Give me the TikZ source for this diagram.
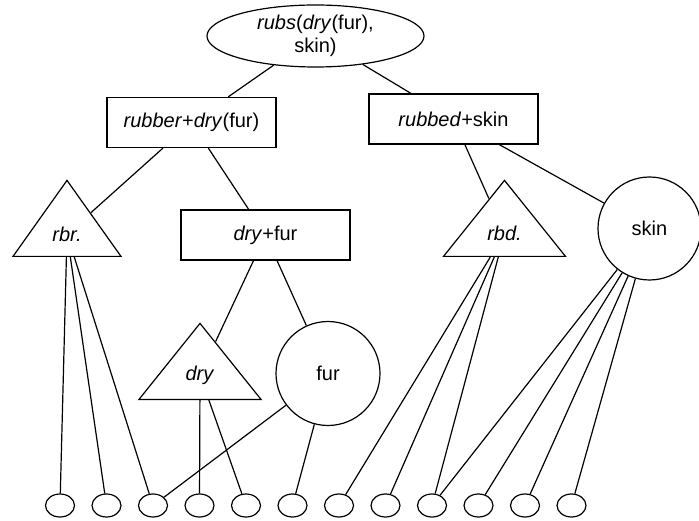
\documentclass[tikz,border=0pt]{standalone}
\usepackage{fontspec}
\setmainfont{Liberation Sans}
\usetikzlibrary{shapes.geometric}

\begin{document}
\begin{tikzpicture} [x=1pt,y=-1pt,line width=1.2pt,every node/.style={align=center,inner sep=0pt,font=\fontsize{20}{23}\selectfont},
		box/.style={draw,rectangle,minimum width=169pt,minimum height=50pt},
		tri/.style={draw,isosceles triangle,shape border rotate=90,isosceles triangle stretches,minimum width=#1,minimum height=76pt,anchor=lower side},
		blob/.style={draw,ellipse,minimum width=#1,minimum height=#1},
		leaf/.style={draw,ellipse,minimum width=29pt,minimum height=23pt}]
			\useasboundingbox (0,0) rectangle (699,521);
			% upper part
			\node [draw,ellipse,minimum width=217pt,minimum height=62pt] (rubs) at (315.5,36) {\textit{rubs}(\textit{dry}(fur),\\skin)};
			\node [box] (rubber) at (191.5,122.5) {\textit{rubber}+\textit{dry}(fur)};
			\node [box] (rubbed) at (453.5,119) {\textit{rubbed}+skin};
			\node [tri=108pt] (rbr) at (67,257) {\textit{rbr.}};
			\node [box] (dryfur) at (265.5,235) {\textit{dry}+fur};
			\node [tri=122pt] (rbd) at (504.5,257) {\textit{rbd.}};
			\node [blob=103pt] (skin) at (649.5,228.5) {skin};
			\node [tri=122pt] (dry) at (200,400) {\textit{dry}};
			\node [blob=104pt] (fur) at (328,373.5) {fur};
			% leaves
			\foreach \i in {1,...,12}
				\node [leaf] (leaf\i) at ({13.5+46.5*\i},505.5) {};
			\draw (rubs) -- (rubber);
			\draw (rubs) -- (rubbed);
			\draw (rubber) -- (rbr);
			\draw (rubber) -- (dryfur);
			\draw (dryfur) -- (dry);
			\draw (dryfur) -- (fur);
			\draw (rubbed) -- (rbd);
			\draw (rubbed) -- (skin);
			\foreach \from/\to in {rbr/1,rbr/2,rbr/3,fur/3,dry/4,dry/5,fur/6,rbd/7,rbd/8,rbd/9,skin/9,skin/10,skin/11,skin/12}
				\draw (\from) -- (leaf\to);
		\end{tikzpicture}
\end{document}
